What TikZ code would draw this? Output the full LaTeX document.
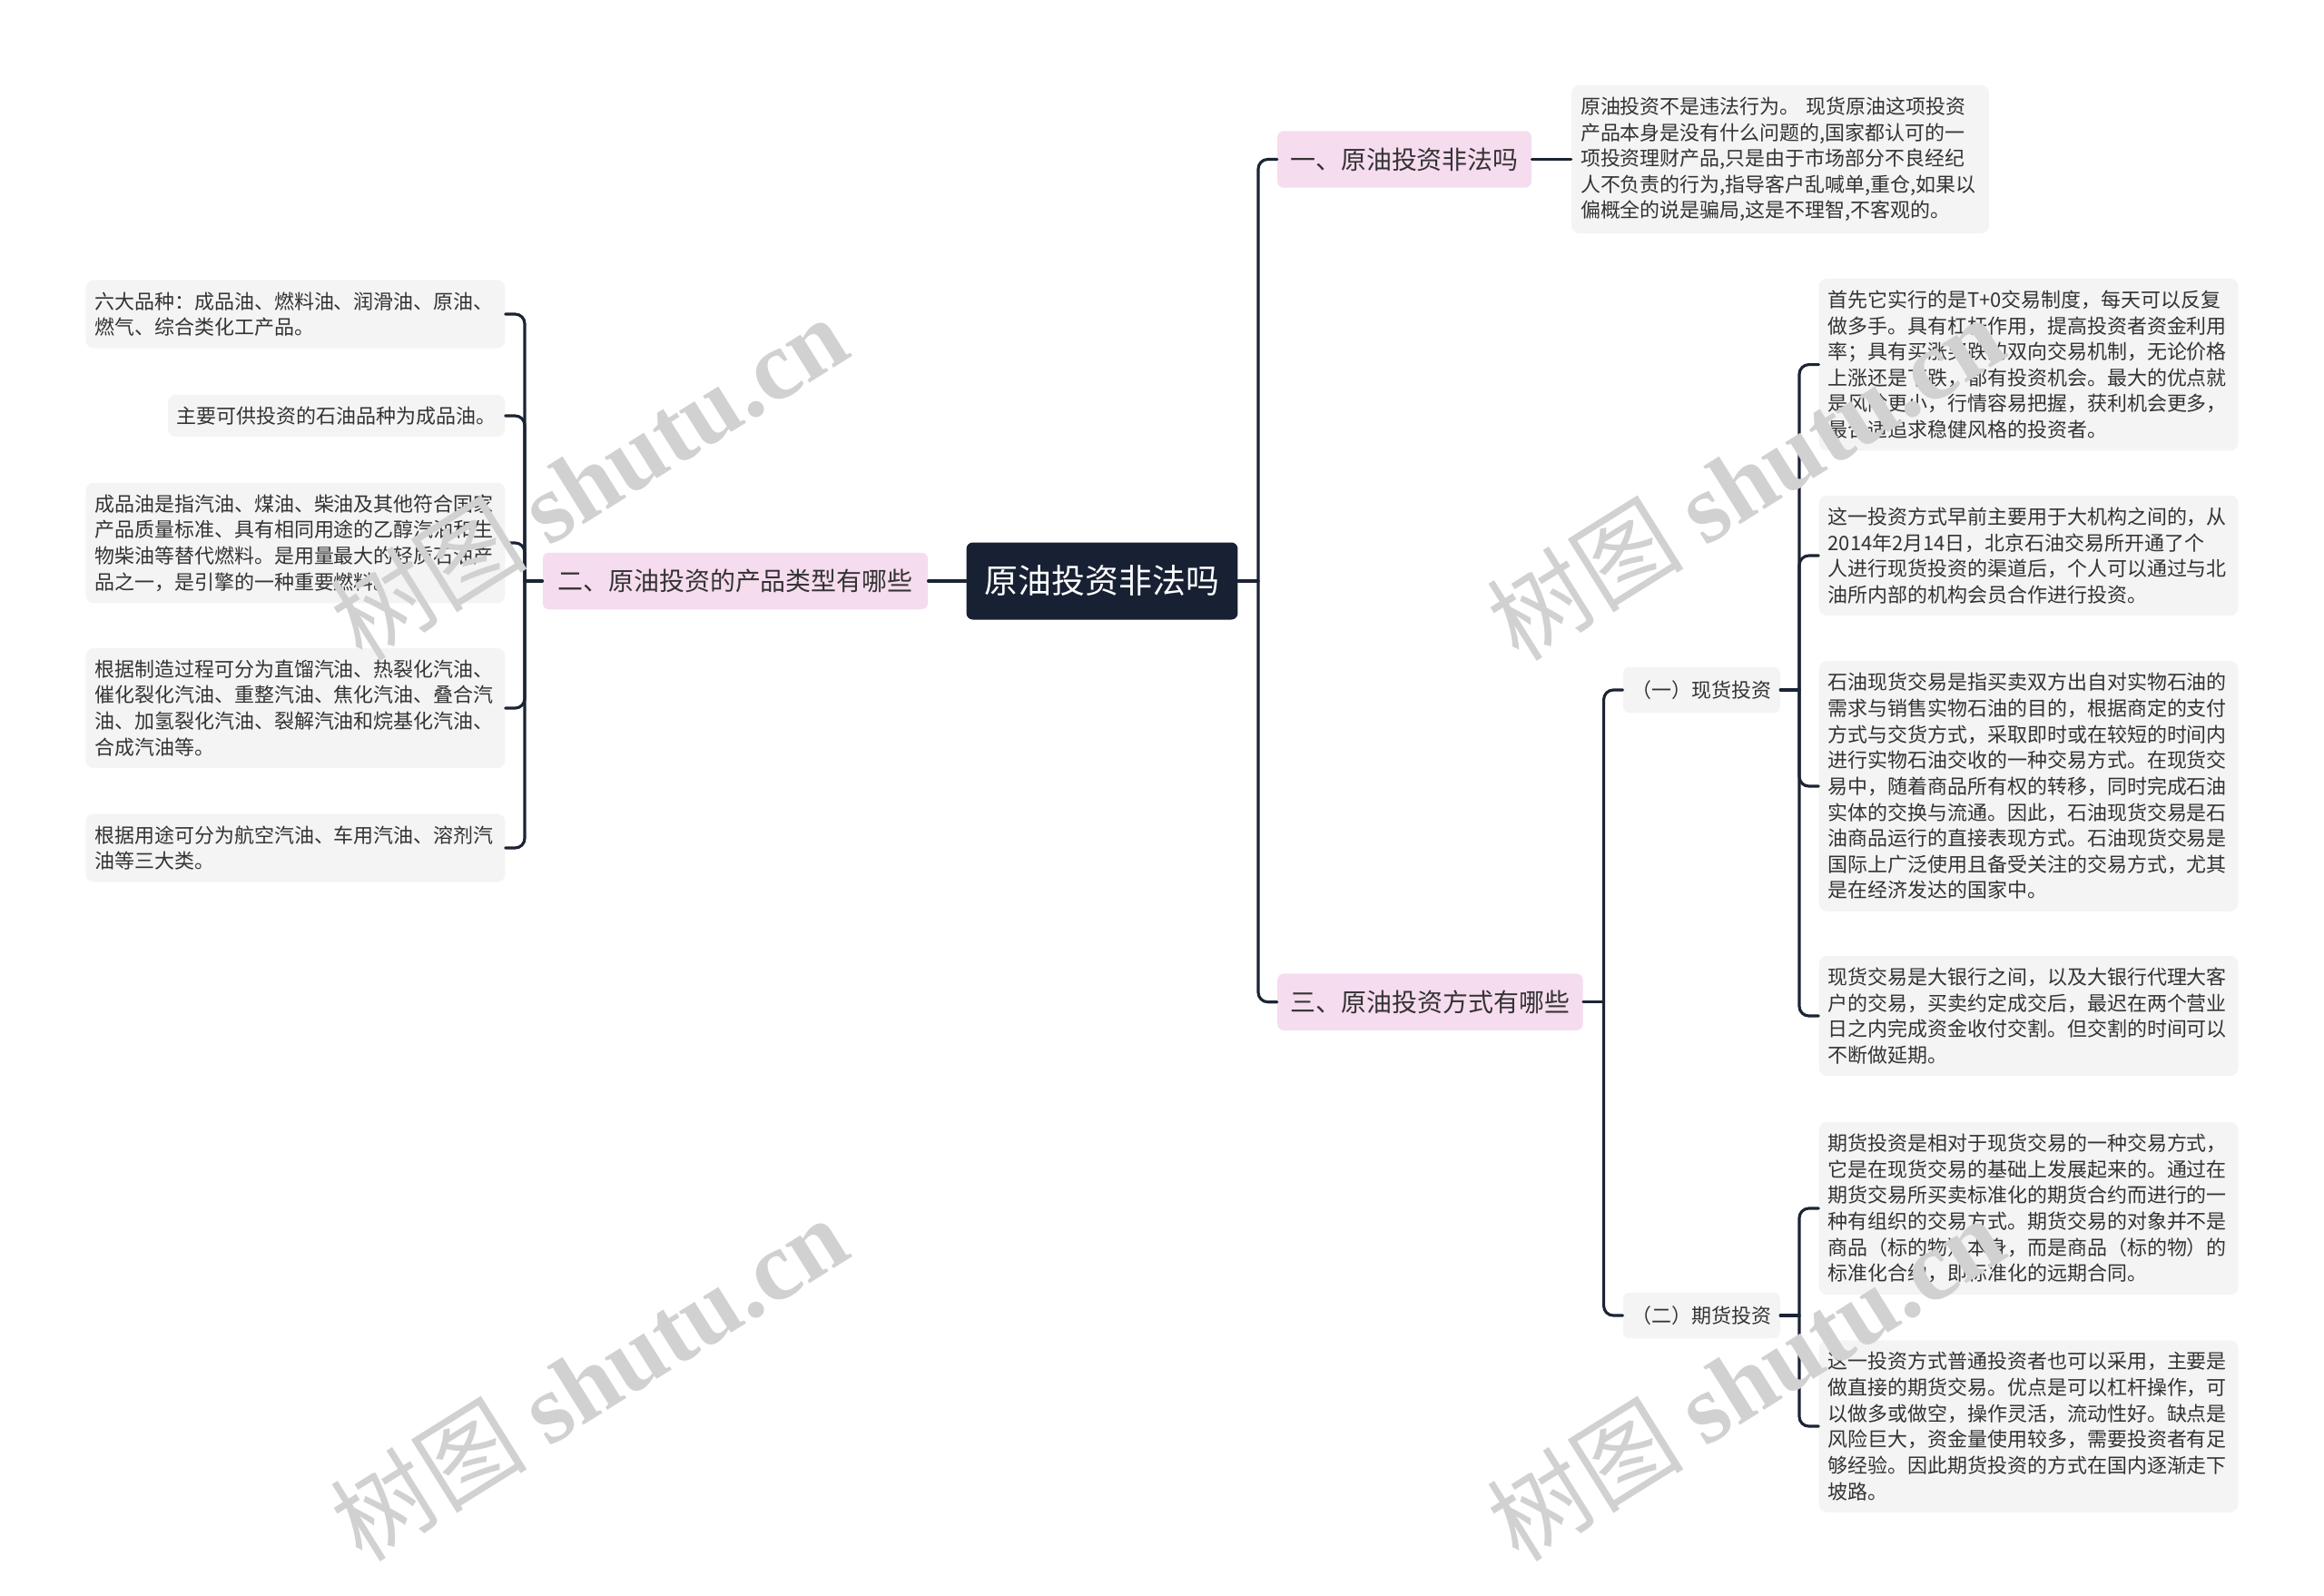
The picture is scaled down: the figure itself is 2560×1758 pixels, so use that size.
\documentclass[tikz,border=0pt]{standalone}
\usepackage{fontspec}
\setmainfont{Noto Sans CJK SC}
\newfontfamily\wmlatin{Liberation Serif}
\usepackage{tikz}

\definecolor{rootbg}{HTML}{172133}
\definecolor{topicbg}{HTML}{F6DCEF}
\definecolor{leafbg}{HTML}{F4F4F4}
\definecolor{linecol}{HTML}{1B2434}
\definecolor{textcol}{HTML}{333333}

\begin{document}
\begin{tikzpicture}[x=0.02cm, y=-0.02cm, line cap=round, line join=round,
    conn/.style={line width=1.8pt, color=linecol, rounded corners=6pt},
    rootnode/.style={fill=rootbg, text=white, rounded corners=4pt, minimum width=5.98cm, minimum height=1.7cm, font=\fontsize{21}{25}\selectfont},
    topic/.style={fill=topicbg, text=textcol, rounded corners=4pt, minimum height=1.25cm, font=\fontsize{15.9}{19}\selectfont},
    subtopic/.style={fill=leafbg, text=textcol, rounded corners=4pt, minimum width=3.46cm, minimum height=1.01cm, font=\fontsize{12.5}{15}\selectfont},
    leaf/.style={fill=leafbg, text=textcol, rounded corners=5pt, inner xsep=0.2cm, inner ysep=0.26cm, align=left, font=\fontsize{12.5}{16.3}\selectfont},
    wide/.style={text width=8.84cm},
    wmtext/.style={color=black!18, rotate=32, font=\fontsize{62}{70}\selectfont}]
    \useasboundingbox (0,0) rectangle (2560,1758);

    \node[rootnode] (root) at (1214,640) {原油投资非法吗};
    \node[topic, minimum width=5.6cm] (t1) at (1547,175.5) {一、原油投资非法吗};
    \node[topic, minimum width=8.49cm] (t2) at (810,640) {二、原油投资的产品类型有哪些};
    \node[topic, minimum width=6.73cm] (t3) at (1575.4,1103.7) {三、原油投资方式有哪些};
    \node[subtopic] (spot) at (1874.3,760) {（一）现货投资};
    \node[subtopic] (fut) at (1874.3,1449) {（二）期货投资};

    \node[leaf, text width=8.8cm, anchor=west] (a1) at (1730.7,175.5) {原油投资不是违法行为。 现货原油这项投资\\产品本身是没有什么问题的,国家都认可的一\\项投资理财产品,只是由于市场部分不良经纪\\人不负责的行为,指导客户乱喊单,重仓,如果以\\偏概全的说是骗局,这是不理智,不客观的。};

    \node[leaf, wide, anchor=east] (b1) at (556.7,346) {六大品种：成品油、燃料油、润滑油、原油、\\燃气、综合类化工产品。};
    \node[leaf, anchor=east] (b2) at (556.7,458) {主要可供投资的石油品种为成品油。};
    \node[leaf, wide, anchor=east] (b3) at (556.7,598) {成品油是指汽油、煤油、柴油及其他符合国家\\产品质量标准、具有相同用途的乙醇汽油和生\\物柴油等替代燃料。是用量最大的轻质石油产\\品之一，是引擎的一种重要燃料。};
    \node[leaf, wide, anchor=east] (b4) at (556.7,780) {根据制造过程可分为直馏汽油、热裂化汽油、\\催化裂化汽油、重整汽油、焦化汽油、叠合汽\\油、加氢裂化汽油、裂解汽油和烷基化汽油、\\合成汽油等。};
    \node[leaf, wide, anchor=east] (b5) at (556.7,934) {根据用途可分为航空汽油、车用汽油、溶剂汽\\油等三大类。};

    \node[leaf, wide, anchor=west] (c1) at (2003.3,401.6) {首先它实行的是T+0交易制度，每天可以反复\\做多手。具有杠杆作用，提高投资者资金利用\\率；具有买涨买跌的双向交易机制，无论价格\\上涨还是下跌，都有投资机会。最大的优点就\\是风险更小，行情容易把握，获利机会更多，\\最合适追求稳健风格的投资者。};
    \node[leaf, wide, anchor=west] (c2) at (2003.3,612) {这一投资方式早前主要用于大机构之间的，从\\2014年2月14日，北京石油交易所开通了个\\人进行现货投资的渠道后，个人可以通过与北\\油所内部的机构会员合作进行投资。};
    \node[leaf, wide, anchor=west] (c3) at (2003.3,866) {石油现货交易是指买卖双方出自对实物石油的\\需求与销售实物石油的目的，根据商定的支付\\方式与交货方式，采取即时或在较短的时间内\\进行实物石油交收的一种交易方式。在现货交\\易中，随着商品所有权的转移，同时完成石油\\实体的交换与流通。因此，石油现货交易是石\\油商品运行的直接表现方式。石油现货交易是\\国际上广泛使用且备受关注的交易方式，尤其\\是在经济发达的国家中。};
    \node[leaf, wide, anchor=west] (c4) at (2003.3,1119) {现货交易是大银行之间，以及大银行代理大客\\户的交易，买卖约定成交后，最迟在两个营业\\日之内完成资金收付交割。但交割的时间可以\\不断做延期。};
    \node[leaf, wide, anchor=west] (d1) at (2003.3,1331) {期货投资是相对于现货交易的一种交易方式，\\它是在现货交易的基础上发展起来的。通过在\\期货交易所买卖标准化的期货合约而进行的一\\种有组织的交易方式。期货交易的对象并不是\\商品（标的物）本身，而是商品（标的物）的\\标准化合约，即标准化的远期合同。};
    \node[leaf, wide, anchor=west] (d2) at (2003.3,1571) {这一投资方式普通投资者也可以采用，主要是\\做直接的期货交易。优点是可以杠杆操作，可\\以做多或做空，操作灵活，流动性好。缺点是\\风险巨大，资金量使用较多，需要投资者有足\\够经验。因此期货投资的方式在国内逐渐走下\\坡路。};

    \coordinate (rj) at (1386,640);
    \coordinate (lj) at (578,640);
    \coordinate (sj) at (1766.6,1103.7);
    \coordinate (aj) at (1982,760);
    \coordinate (fj) at (1982,1449);

    \draw[conn] (root.west) -- (t2.east);
    \draw[conn] (root.east) -- (rj);
    \draw[conn] (rj) |- (t1.west);
    \draw[conn] (rj) |- (t3.west);
    \draw[conn] (t1.east) -- (a1.west);
    \draw[conn] (t2.west) -- (lj);
    \foreach \n in {b1,b2,b3,b4,b5}
        \draw[conn] (lj) |- (\n.east);
    \draw[conn] (t3.east) -- (sj);
    \draw[conn] (sj) |- (spot.west);
    \draw[conn] (sj) |- (fut.west);
    \draw[conn] (spot.east) -- (aj);
    \foreach \n in {c1,c2,c3,c4}
        \draw[conn] (aj) |- (\n.west);
    \draw[conn] (fut.east) -- (fj);
    \foreach \n in {d1,d2}
        \draw[conn] (fj) |- (\n.west);

    \node[wmtext] (w1) at (648,526) {树图 {\wmlatin\bfseries shutu.cn}};
    \node[wmtext] (w2) at (1922,526) {树图 {\wmlatin\bfseries shutu.cn}};
    \node[wmtext] (w3) at (648,1518) {树图 {\wmlatin\bfseries shutu.cn}};
    \node[wmtext] (w4) at (1922,1518) {树图 {\wmlatin\bfseries shutu.cn}};
\end{tikzpicture}
\end{document}
